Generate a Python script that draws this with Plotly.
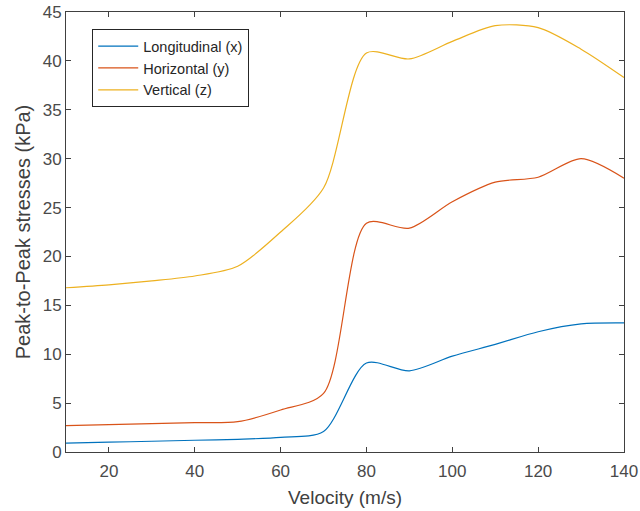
import plotly.graph_objects as go

velocity = [10, 20, 30, 40, 50, 60, 70, 80, 90, 100, 110, 120, 130, 140]
longitudinal = [0.9, 1.0, 1.1, 1.2, 1.3, 1.5, 2.1, 9.1, 8.3, 9.8, 11.0, 12.3, 13.1, 13.2]
horizontal = [2.7, 2.8, 2.9, 3.0, 3.1, 4.3, 6.0, 23.4, 22.9, 25.6, 27.6, 28.1, 30.0, 28.0]
vertical = [16.8, 17.1, 17.5, 18.0, 19.0, 22.5, 27.0, 40.8, 40.2, 42.0, 43.6, 43.4, 41.2, 38.3]

names = ["Longitudinal (x)", "Horizontal (y)", "Vertical (z)"]
series = [longitudinal, horizontal, vertical]
colors = ["#0072BD", "#D95319", "#EDB120"]

fig = go.Figure()
for n, s, c in zip(names, series, colors):
    fig.add_trace(go.Scatter(x=velocity, y=s, name=n, mode="lines",
                             line=dict(color=c, width=1.2, shape="spline", smoothing=0.8)))

axis_common = dict(showgrid=False, zeroline=False, showline=True, linecolor="#404040",
                   linewidth=1, mirror="ticks", ticks="inside", ticklen=5, automargin=False,
                   tickcolor="#404040", tickfont=dict(family="Liberation Sans, Arial", size=17, color="#4a4a4a"))

fig.update_layout(
    width=640, height=511,
    margin=dict(l=66, r=16, t=12, b=59),
    paper_bgcolor="white", plot_bgcolor="white",
    font=dict(family="Liberation Sans, Arial", color="#404040"),
    xaxis=dict(range=[10, 140], tickvals=[20, 40, 60, 80, 100, 120, 140], ticklabelstandoff=4,
               title=dict(text="Velocity (m/s)", font=dict(size=19, color="#404040"), standoff=10),
               **axis_common),
    yaxis=dict(range=[0, 45], tickvals=[0, 5, 10, 15, 20, 25, 30, 35, 40, 45],
               title=dict(text="Peak-to-Peak stresses (kPa)", font=dict(size=20, color="#404040"), standoff=6),
               **axis_common),
    legend=dict(x=0.047, y=0.961, xanchor="left", yanchor="top",
                bgcolor="white", bordercolor="#262626", borderwidth=1,
                font=dict(size=14.5, color="#262626"), tracegroupgap=0, itemwidth=40),
    showlegend=True,
)

fig.write_html("out.html")
